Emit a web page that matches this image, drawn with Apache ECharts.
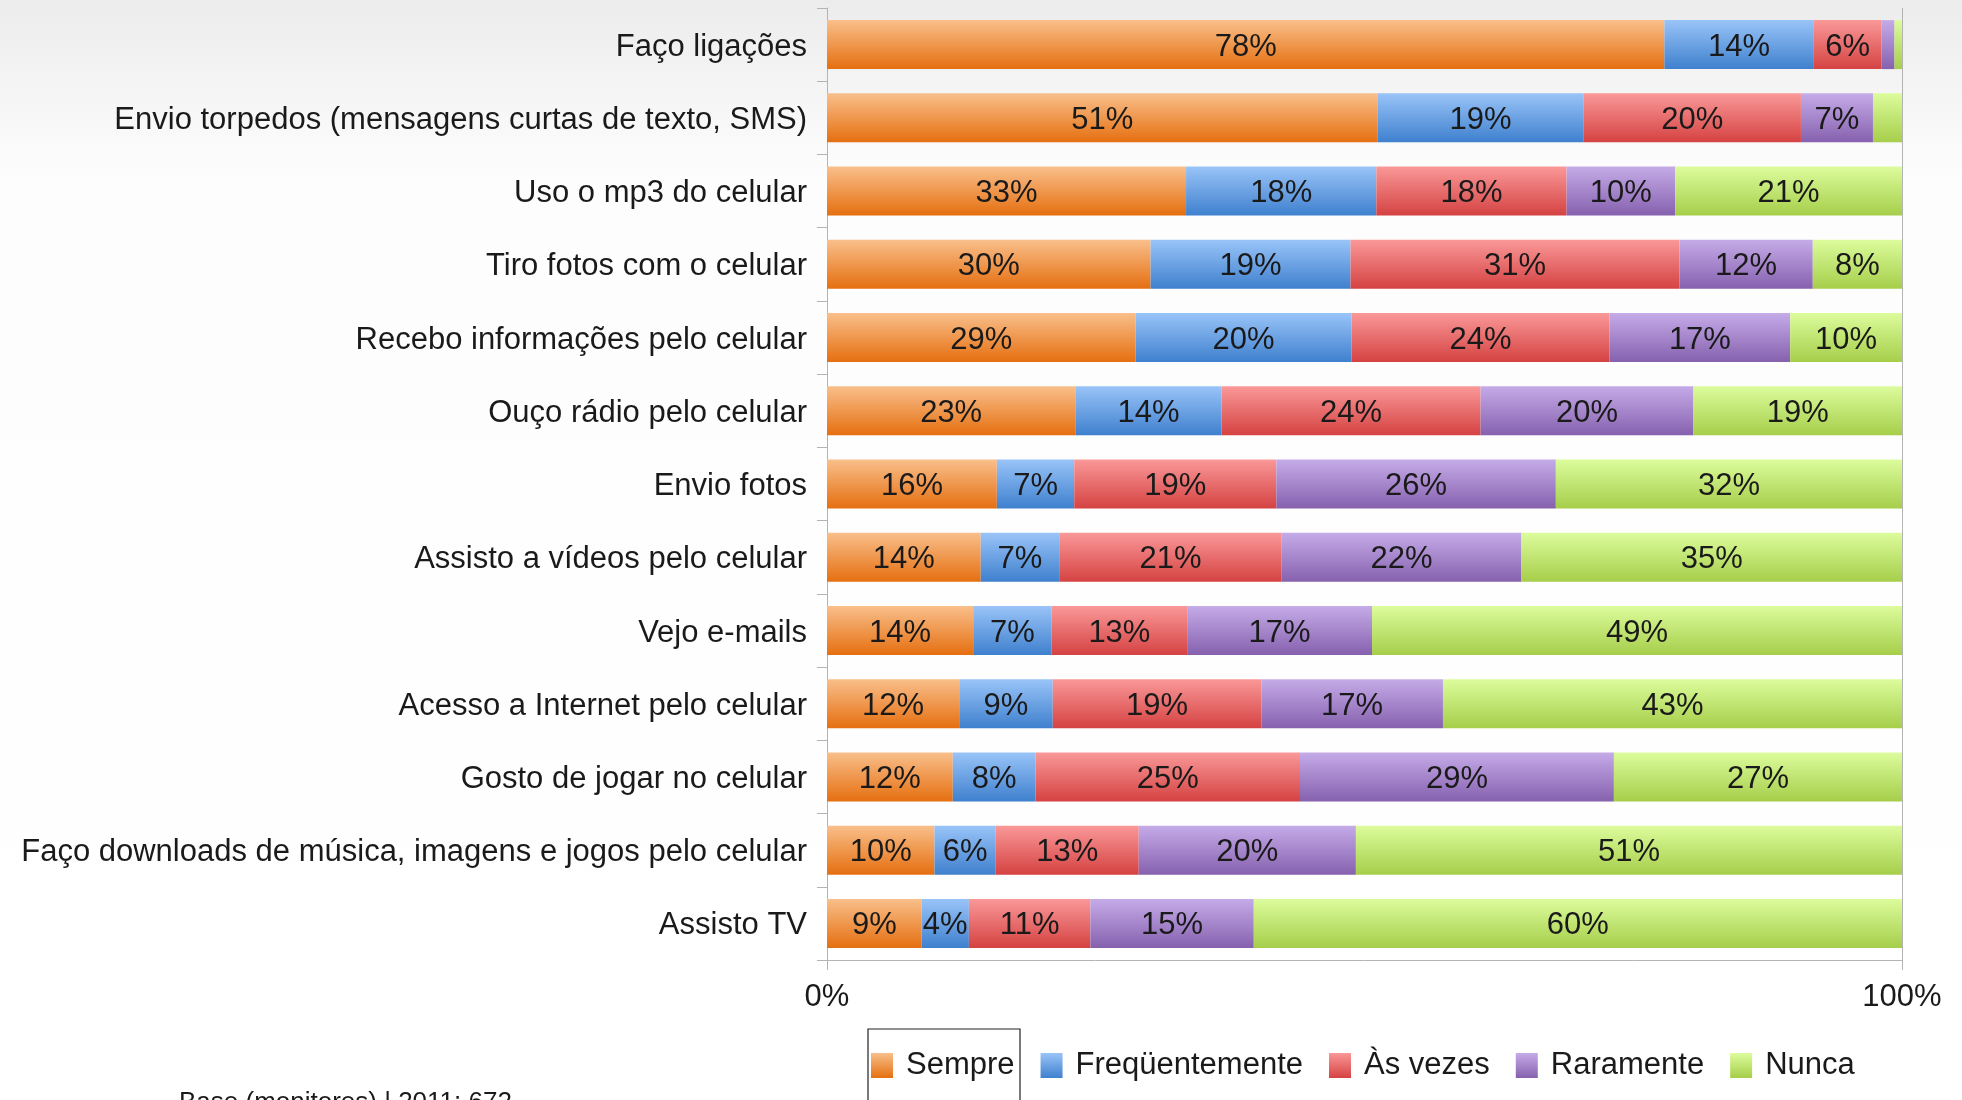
<!DOCTYPE html>
<html>
<head>
<meta charset="utf-8">
<script src="https://cdn.jsdelivr.net/npm/echarts@6/dist/echarts.min.js"></script>
<style>
html, body { margin: 0; padding: 0; }
#chart { width: 1962px; height: 1100px; }
</style>
</head>
<body>
<div id="chart"></div>
<script>
// categorias (de cima para baixo)
const categorias = [
  'Faço ligações',
  'Envio torpedos (mensagens curtas de texto, SMS)',
  'Uso o mp3 do celular',
  'Tiro fotos com o celular',
  'Recebo informações pelo celular',
  'Ouço rádio pelo celular',
  'Envio fotos',
  'Assisto a vídeos pelo celular',
  'Vejo e-mails',
  'Acesso a Internet pelo celular',
  'Gosto de jogar no celular',
  'Faço downloads de música, imagens e jogos pelo celular',
  'Assisto TV'
]
const sempre = [77.9, 51.2, 33.4, 30.1, 28.7, 23.1, 15.8, 14.3, 13.6, 12.3, 11.7, 10.0, 8.8]
const frequentemente = [13.9, 19.2, 17.7, 18.6, 20.1, 13.6, 7.2, 7.3, 7.3, 8.7, 7.7, 5.7, 4.4]
const asVezes = [6.3, 20.2, 17.7, 30.6, 24.0, 24.1, 18.8, 20.7, 12.6, 19.4, 24.6, 13.3, 11.3]
const raramente = [1.2, 6.7, 10.1, 12.4, 16.8, 19.8, 26.0, 22.3, 17.2, 16.9, 29.2, 20.2, 15.2]
const nunca = [0.7, 2.7, 21.1, 8.3, 10.4, 19.4, 32.2, 35.4, 49.3, 42.7, 26.8, 50.8, 60.3]
const xTicks = ['0%', '100%']

const fonte = 'Liberation Sans, Arial, sans-serif'
const corTexto = '#1a1a1a'

// gradiente vertical de cada série (claro em cima, escuro embaixo)
const grad = (topo, base) => new echarts.graphic.LinearGradient(0, 0, 0, 1, [
  { offset: 0, color: topo },
  { offset: 1, color: base }
])

const serie = (nome, dados, topo, base) => ({
  name: nome,
  type: 'bar',
  stack: 'total',
  data: dados,
  barWidth: 49,
  itemStyle: { color: grad(topo, base) },
  label: {
    show: true,
    position: 'inside',
    offset: [0, 2.5],
    fontFamily: fonte,
    fontSize: 31,
    color: corTexto,
    formatter: (p) => p.value < 3 ? '' : Math.round(p.value) + '%'
  },
  emphasis: { disabled: true }
})

const chartinit = echarts.init(document.getElementById('chart'))
const option = {
  animation: false,
  backgroundColor: new echarts.graphic.LinearGradient(0, 0, 0, 1, [
    { offset: 0, color: '#ececec' },
    { offset: 0.16, color: '#fdfdfd' },
    { offset: 1, color: '#ffffff' }
  ]),
  textStyle: { fontFamily: fonte },
  grid: {
    left: 827,
    right: 60,
    top: 8,
    height: 952
  },
  legend: {
    left: 866,
    top: 1045,
    icon: 'rect',
    itemWidth: 22,
    itemHeight: 25,
    itemGap: 26,
    textStyle: {
      fontFamily: fonte,
      fontSize: 31,
      color: corTexto,
      padding: [0, 0, 0, 8]
    },
    data: ['Sempre', 'Freqüentemente', 'Às vezes', 'Raramente', 'Nunca']
  },
  xAxis: {
    type: 'value',
    min: 0,
    max: 100,
    interval: 100,
    axisLine: { show: true, lineStyle: { color: '#b3b3b3' } },
    axisTick: { show: true, length: 10, lineStyle: { color: '#b3b3b3' } },
    splitLine: { show: true, lineStyle: { color: '#b3b3b3' } },
    axisLabel: {
      fontFamily: fonte,
      fontSize: 31,
      color: corTexto,
      margin: 22,
      formatter: (v) => xTicks[v === 0 ? 0 : 1]
    }
  },
  yAxis: {
    type: 'category',
    inverse: true,
    data: categorias,
    axisLine: { show: true, lineStyle: { color: '#b3b3b3' } },
    axisTick: { show: true, length: 10, lineStyle: { color: '#b3b3b3' } },
    axisLabel: {
      margin: 20,
      formatter: (v) => '{c|' + v + '}',
      rich: {
        c: {
          fontFamily: fonte,
          fontSize: 31,
          color: corTexto,
          padding: [5, 0, 0, 0]
        }
      }
    }
  },
  graphic: [
    {
      type: 'rect',
      shape: { x: 868, y: 1029, width: 152, height: 100 },
      style: { fill: 'none', stroke: '#222', lineWidth: 1.2 },
      z: 10
    },
    {
      type: 'text',
      left: 179,
      top: 1090,
      style: {
        text: 'Base (monitores) | 2011: 672',
        fontFamily: fonte,
        fontSize: 26,
        fill: corTexto
      }
    }
  ],
  series: [
    serie('Sempre', sempre, '#f9bf8b', '#e56f10'),
    serie('Freqüentemente', frequentemente, '#99c4f8', '#3f80ce'),
    serie('Às vezes', asVezes, '#fa9898', '#d54242'),
    serie('Raramente', raramente, '#c5abe8', '#8661ae'),
    serie('Nunca', nunca, '#dcfc9c', '#a6ce4a')
  ]
}
chartinit.setOption(option)
</script>
</body>
</html>
